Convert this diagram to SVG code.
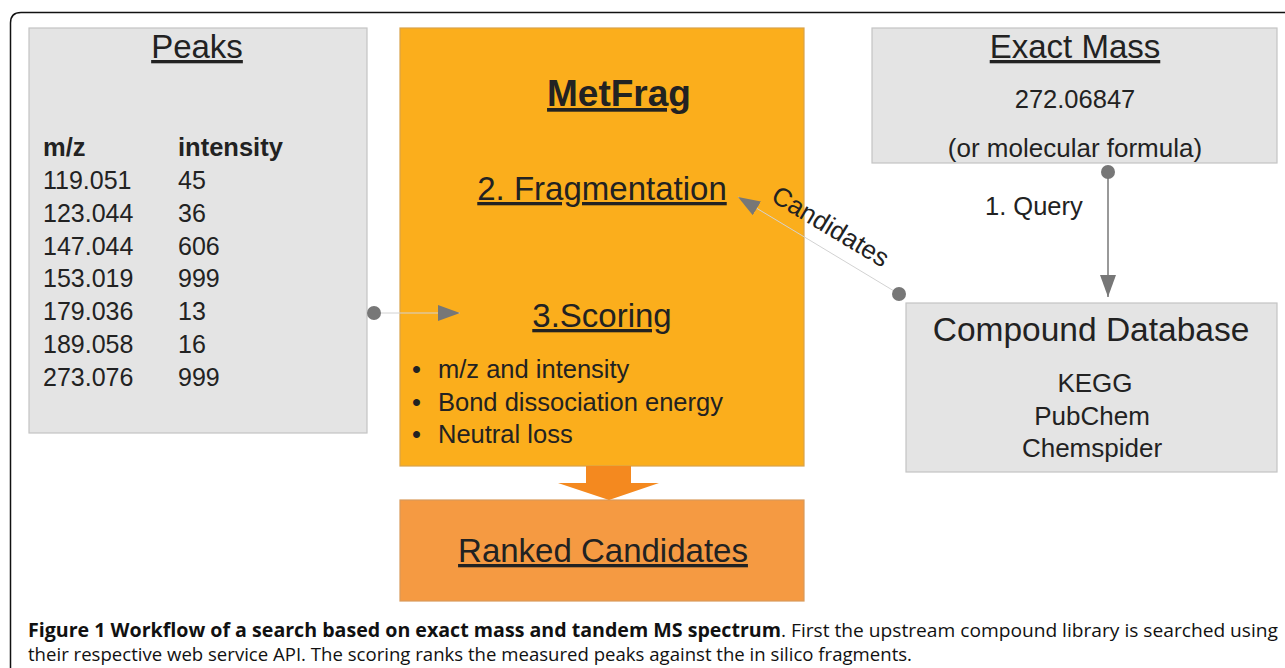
<svg xmlns="http://www.w3.org/2000/svg" width="1285" height="668" viewBox="0 0 1285 668">
<style>
.box{fill:#e4e4e4;stroke:#c4c4c4;stroke-width:1.2}
.mf{fill:#fbae1c;stroke:#d9a24a;stroke-width:1.2}
.rk{fill:#f59a42;stroke:#d99a5a;stroke-width:1.2}
text{font-family:"Liberation Sans",Arial,sans-serif;fill:#222}
.u{text-decoration:underline}
.c{text-anchor:middle}
.b{font-weight:bold}
.cap{font-family:"Open Sans","Liberation Sans",sans-serif;font-size:19px;fill:#111}
.thin{stroke:#d2d2d2;stroke-width:1;fill:none}
.dark{stroke:#777;stroke-width:1.5;fill:none}
.dot{fill:#777}
</style>
<defs>
<marker id="ah" viewBox="0 0 22 16" refX="22" refY="8" markerWidth="22" markerHeight="16" markerUnits="userSpaceOnUse" orient="auto">
<path d="M0,0 L22,8 L0,16 Z" fill="#777"/>
</marker>
</defs>
<rect width="1285" height="668" fill="#fff"/>
<path d="M10.5,668 V23 Q10.5,12.5 21,12.5 H1285" fill="none" stroke="#111" stroke-width="1.5"/>

<g id="peaks">
<rect class="box" x="29" y="28" width="338" height="405"/>
<text class="c u" x="197" y="58" font-size="33">Peaks</text>
<text class="b" x="43" y="156" font-size="25.5">m/z</text>
<text class="b" x="178" y="156" font-size="25.5">intensity</text>
<g font-size="25">
<text x="43" y="189">119.051</text><text x="178" y="189">45</text>
<text x="43" y="222">123.044</text><text x="178" y="222">36</text>
<text x="43" y="255">147.044</text><text x="178" y="255">606</text>
<text x="43" y="287">153.019</text><text x="178" y="287">999</text>
<text x="43" y="320">179.036</text><text x="178" y="320">13</text>
<text x="43" y="353">189.058</text><text x="178" y="353">16</text>
<text x="43" y="386">273.076</text><text x="178" y="386">999</text>
</g>
</g>

<g id="metfrag">
<rect class="mf" x="400" y="28" width="404" height="438"/>
<text class="c u b" x="619" y="106" font-size="37">MetFrag</text>
<text class="c u" x="602" y="200" font-size="33">2. Fragmentation</text>
<text class="c u" x="602" y="327" font-size="33">3.Scoring</text>
<g font-size="25.5">
<text x="412" y="378">•</text><text x="438" y="378">m/z and intensity</text>
<text x="412" y="411">•</text><text x="438" y="411">Bond dissociation energy</text>
<text x="412" y="443">•</text><text x="438" y="443">Neutral loss</text>
</g>
</g>

<g id="exact-mass">
<rect class="box" x="872" y="28" width="405" height="135"/>
<text class="c u" x="1075" y="58" font-size="33">Exact Mass</text>
<text class="c" x="1075" y="108" font-size="25.5">272.06847</text>
<text class="c" x="1075" y="157" font-size="26">(or molecular formula)</text>
</g>

<g id="compound-db">
<rect class="box" x="906" y="303" width="371" height="169"/>
<text class="c" x="1091" y="341" font-size="33.5">Compound Database</text>
<text class="c" x="1095" y="392" font-size="26">KEGG</text>
<text class="c" x="1092" y="425" font-size="26">PubChem</text>
<text class="c" x="1092" y="457" font-size="26">Chemspider</text>
</g>

<g id="ranked">
<rect class="rk" x="400" y="500" width="404" height="101"/>
<text class="c u" x="603" y="562" font-size="33">Ranked Candidates</text>
</g>

<g id="connectors">
<path d="M586,466 H631 V483 H659 L609,500 L558,483 H586 Z" fill="#f4891f"/>
<line class="thin" x1="374" y1="313" x2="460" y2="313" marker-end="url(#ah)"/>
<circle class="dot" cx="374" cy="313" r="7"/>
<line class="thin" x1="899" y1="294" x2="738" y2="197" marker-end="url(#ah)"/>
<circle class="dot" cx="899" cy="294" r="7"/>
<line class="dark" x1="1108" y1="172" x2="1108" y2="297" marker-end="url(#ah)"/>
<circle class="dot" cx="1108" cy="172" r="7"/>
<text class="c" x="0" y="0" font-size="26" transform="translate(826,234) rotate(31)">Candidates</text>
<text x="985" y="215" font-size="25.5">1. Query</text>
</g>

<g id="caption">
<text class="cap b" x="28" y="637" textLength="753" lengthAdjust="spacingAndGlyphs">Figure 1 Workflow of a search based on exact mass and tandem MS spectrum</text>
<text class="cap" x="781" y="637" textLength="497" lengthAdjust="spacingAndGlyphs">. First the upstream compound library is searched using</text>
<text class="cap" x="28" y="661" textLength="884" lengthAdjust="spacingAndGlyphs">their respective web service API. The scoring ranks the measured peaks against the in silico fragments.</text>
</g>
</svg>
